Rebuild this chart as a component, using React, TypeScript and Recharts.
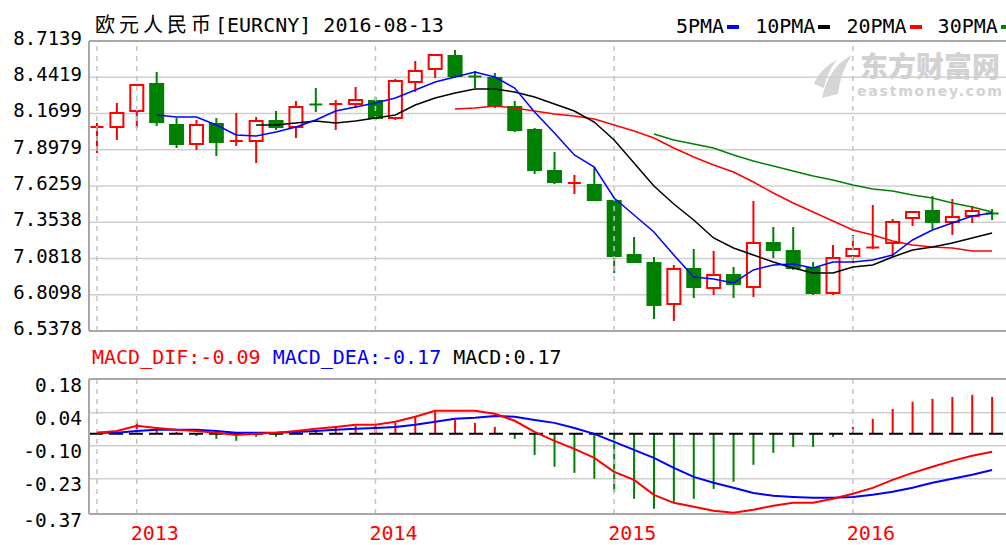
import React from "react";
import {
  ComposedChart,
  Bar,
  Line,
  XAxis,
  YAxis,
  CartesianGrid,
  ReferenceLine,
  Cell,
} from "recharts";

// monthly candles, Nov 2012 .. Aug 2016
const months = [
  "2012-11", "2012-12",
  "2013-01", "2013-02", "2013-03", "2013-04", "2013-05", "2013-06", "2013-07", "2013-08", "2013-09", "2013-10", "2013-11", "2013-12",
  "2014-01", "2014-02", "2014-03", "2014-04", "2014-05", "2014-06", "2014-07", "2014-08", "2014-09", "2014-10", "2014-11", "2014-12",
  "2015-01", "2015-02", "2015-03", "2015-04", "2015-05", "2015-06", "2015-07", "2015-08", "2015-09", "2015-10", "2015-11", "2015-12",
  "2016-01", "2016-02", "2016-03", "2016-04", "2016-05", "2016-06", "2016-07", "2016-08",
];

const open = [8.0611, 8.0686, 8.1887, 8.3913, 8.0836, 7.9411, 8.0911, 7.9561, 7.9636, 8.1136, 8.0686, 8.2412, 8.2337, 8.2412, 8.2637, 8.1362, 8.4063, 8.5038, 8.6014, 8.4513, 8.4363, 8.2187, 8.0461, 7.7385, 7.641, 7.6335, 7.5133, 7.1082, 7.0482, 6.7405, 7.0031, 6.8606, 6.9581, 6.8681, 7.1983, 7.1382, 7.0106, 6.8231, 7.1007, 7.1608, 7.1983, 7.3858, 7.4383, 7.3558, 7.4008, 7.4233];
const high = [8.0986, 8.2487, 8.3913, 8.4813, 8.1362, 8.1211, 8.1362, 8.1737, 8.1437, 8.1887, 8.2637, 8.3613, 8.2712, 8.3688, 8.2937, 8.4288, 8.5639, 8.6164, 8.6464, 8.4888, 8.4738, 8.2637, 8.0611, 7.881, 7.7085, 7.7685, 7.5208, 7.2433, 7.0932, 7.0332, 7.1532, 7.1382, 7.0182, 7.5133, 7.3183, 7.3183, 7.0557, 7.1833, 7.2583, 7.4833, 7.3783, 7.4383, 7.5509, 7.5283, 7.4758, 7.4533];
const low = [7.8735, 7.9711, 8.0611, 8.0761, 7.9111, 7.896, 7.851, 7.9261, 7.7985, 8.0461, 7.9861, 8.1812, 8.0461, 8.2112, 8.1211, 8.1211, 8.3313, 8.4363, 8.4438, 8.3613, 8.2112, 8.0311, 7.716, 7.641, 7.566, 7.5133, 6.9731, 7.0482, 6.628, 6.613, 6.7855, 6.8081, 6.7855, 6.793, 7.0857, 6.9956, 6.8081, 6.8081, 7.0482, 7.1532, 7.0932, 7.3258, 7.3033, 7.2583, 7.3483, 7.3708];
const close = [8.0761, 8.1737, 8.3838, 8.1061, 7.9411, 8.0836, 7.9561, 7.9711, 8.1136, 8.0686, 8.2187, 8.2337, 8.2487, 8.2712, 8.1362, 8.4138, 8.4888, 8.6089, 8.4513, 8.4438, 8.2337, 8.0461, 7.746, 7.656, 7.656, 7.5208, 7.1007, 7.0557, 6.733, 7.0031, 6.8681, 6.9581, 6.8906, 7.1983, 7.1457, 7.0106, 6.8231, 7.0857, 7.1532, 7.1683, 7.3558, 7.4308, 7.3558, 7.3933, 7.4383, 7.4158];

const ma5 = [null, null, null, 8.1587, 8.1437, 8.1437, 8.0836, 8.0086, 8.0011, 8.0311, 8.0686, 8.1211, 8.1887, 8.2187, 8.2487, 8.2862, 8.3463, 8.4063, 8.4438, 8.4813, 8.4438, 8.3613, 8.1812, 8.0236, 7.8585, 7.7685, 7.5358, 7.4083, 7.2807, 7.1081, 6.943, 6.928, 6.898, 6.9956, 7.0331, 7.0406, 7.0106, 7.0556, 7.0556, 7.0706, 7.1081, 7.2207, 7.2957, 7.3483, 7.4008, 7.4233];
const ma10 = [null, null, null, null, null, null, null, null, 8.0836, 8.0836, 8.0986, 8.1136, 8.0986, 8.1136, 8.1362, 8.1587, 8.2337, 8.2862, 8.3237, 8.3538, 8.3538, 8.3312, 8.2937, 8.2412, 8.1887, 8.1061, 7.9711, 7.7985, 7.6259, 7.4908, 7.3708, 7.2357, 7.1607, 7.1081, 7.0556, 7.0106, 6.9731, 6.9731, 7.0181, 7.0331, 7.0931, 7.1456, 7.1682, 7.1982, 7.2357, 7.2732];
const ma20 = [null, null, null, null, null, null, null, null, null, null, null, null, null, null, null, null, null, null, 8.2037, 8.2112, 8.2262, 8.2112, 8.1887, 8.1662, 8.1512, 8.1286, 8.0836, 8.0386, 7.9861, 7.911, 7.8435, 7.7835, 7.7309, 7.6559, 7.5734, 7.4983, 7.4308, 7.3633, 7.2957, 7.2582, 7.2132, 7.1832, 7.1682, 7.1607, 7.1381, 7.1381];
const ma30 = [null, null, null, null, null, null, null, null, null, null, null, null, null, null, null, null, null, null, null, null, null, null, null, null, null, null, null, null, 8.0161, 7.9711, 7.9411, 7.911, 7.8585, 7.8135, 7.776, 7.7385, 7.7009, 7.6709, 7.6334, 7.6034, 7.5884, 7.5584, 7.5358, 7.4983, 7.4683, 7.4308];

const dif = [0.005, 0.014, 0.038, 0.028, 0.019, 0.014, 0.005, -0.005, 0.0, 0.005, 0.014, 0.024, 0.033, 0.043, 0.043, 0.057, 0.081, 0.109, 0.109, 0.109, 0.095, 0.062, 0.009, -0.033, -0.071, -0.114, -0.18, -0.218, -0.289, -0.327, -0.346, -0.365, -0.374, -0.36, -0.341, -0.327, -0.327, -0.308, -0.284, -0.256, -0.218, -0.185, -0.156, -0.128, -0.104, -0.085];
const dea = [0.005, 0.005, 0.014, 0.019, 0.019, 0.019, 0.014, 0.005, 0.005, 0.005, 0.009, 0.014, 0.019, 0.024, 0.028, 0.033, 0.043, 0.057, 0.071, 0.076, 0.085, 0.081, 0.066, 0.052, 0.028, 0.0, -0.038, -0.076, -0.114, -0.161, -0.204, -0.232, -0.256, -0.28, -0.294, -0.299, -0.303, -0.303, -0.299, -0.289, -0.275, -0.256, -0.232, -0.213, -0.194, -0.171];
const macd = [0.0, 0.01, 0.057, 0.019, 0.009, -0.01, -0.024, -0.033, -0.014, -0.014, 0.005, 0.014, 0.033, 0.038, 0.038, 0.052, 0.081, 0.104, 0.066, 0.052, 0.033, -0.024, -0.1, -0.156, -0.185, -0.213, -0.275, -0.308, -0.355, -0.322, -0.308, -0.261, -0.227, -0.147, -0.09, -0.062, -0.062, -0.014, 0.033, 0.071, 0.118, 0.152, 0.166, 0.175, 0.185, 0.175];

const priceTicks = [8.7139, 8.4419, 8.1699, 7.8979, 7.6259, 7.3538, 7.0818, 6.8098, 6.5378];
// the source draws its MACD labels at the grid rows, not at their own values
const macdTicks = [0.26, 0.1, -0.057, -0.213, -0.38];
const macdTickLabels = ["0.18", "0.04", "-0.10", "-0.23", "-0.37"];
const yearTicks = [2, 14, 26, 38];
const yearLabels = ["2013", "2014", "2015", "2016"];
const dashedMonths = [0, 2, 14, 26, 38];

const legendNames = ["5PMA", "10PMA", "20PMA", "30PMA"];
const legendColors = ["#0000ff", "#000000", "#ff0000", "#008000"];

const priceRows = months.map((m, i) => ({
  i,
  month: m,
  open: open[i],
  high: high[i],
  low: low[i],
  close: close[i],
  ma5: ma5[i],
  ma10: ma10[i],
  ma20: ma20[i],
  ma30: ma30[i],
}));

const macdRows = months.map((m, i) => ({ i, month: m, dif: dif[i], dea: dea[i], macd: macd[i] }));

const MONO = '"DejaVu Sans Mono", "Liberation Mono", monospace';
const CJK = '"DejaVu Sans Mono", "Noto Sans CJK SC", monospace';
const X_DOMAIN = [-0.4, 45.7];
const GRID = "#cfcfcf";
const FRAME = "#a8a8a8";

const Candle = (props: any) => {
  const { x, y, width, height, payload } = props;
  if (x == null || !payload) return null;
  const { open: o, close: c, high: h, low: l } = payload;
  const top = Math.min(y, y + height);
  const span = Math.abs(height);
  const k = h > l ? span / (h - l) : 0;
  const py = (v: number) => top + (h - v) * k;
  const cx = x + width / 2;
  const up = c >= o;
  const color = up ? "#ff0000" : "#008000";
  const bTop = py(Math.max(o, c));
  const bBot = py(Math.min(o, c));
  const bw = 13;

  if (bBot - bTop < 2.5) {
    const my = (bTop + bBot) / 2;
    return (
      <g>
        <line x1={cx} x2={cx} y1={top} y2={top + span} stroke={color} strokeWidth={2} />
        <line x1={cx - bw / 2} x2={cx + bw / 2} y1={my} y2={my} stroke={color} strokeWidth={Math.max(2, bBot - bTop)} />
      </g>
    );
  }
  if (up) {
    return (
      <g>
        <line x1={cx} x2={cx} y1={top} y2={bTop} stroke={color} strokeWidth={2} />
        <line x1={cx} x2={cx} y1={bBot} y2={top + span} stroke={color} strokeWidth={2} />
        <rect x={cx - bw / 2} y={bTop} width={bw} height={bBot - bTop} fill="#fff" stroke={color} strokeWidth={2} />
      </g>
    );
  }
  return (
    <g>
      <line x1={cx} x2={cx} y1={top} y2={top + span} stroke={color} strokeWidth={2} />
      <rect x={cx - bw / 2 - 1} y={bTop - 1} width={bw + 2} height={bBot - bTop + 2} fill={color} />
    </g>
  );
};

const PriceTick = (props: any) => {
  const { x, y, payload } = props;
  return (
    <text x={x} y={y - 3} textAnchor="end" dominantBaseline="central" fontSize={19} fontFamily={MONO} fill="#000">
      {Number(payload.value).toFixed(4)}
    </text>
  );
};

const MacdTick = (props: any) => {
  const { x, y, payload } = props;
  const label = macdTickLabels[macdTicks.indexOf(payload.value)];
  return (
    <text x={x} y={y + 6} textAnchor="end" dominantBaseline="central" fontSize={19.5} fontFamily={MONO} fill="#000">
      {label}
    </text>
  );
};

const YearTick = (props: any) => {
  const { x, y, payload } = props;
  const label = yearLabels[yearTicks.indexOf(payload.value)];
  return (
    <text x={x - 6} y={y + 19} textAnchor="start" dominantBaseline="central" fontSize={20} fontFamily={MONO} fill="#ff0000">
      {label}
    </text>
  );
};

export default function App() {
  const last = months.length - 1;
  return (
    <div
      style={{
        position: "absolute",
        left: 0,
        top: 0,
        width: 1006,
        height: 545,
        background: "#fff",
        overflow: "hidden",
        fontFamily: MONO,
      }}
    >
      {/* watermark */}
      <svg style={{ position: "absolute", left: 812, top: 52 }} width={44} height={50}>
        <path d="M10 46 C 14 26, 24 11, 40 3 C 32 15, 28 27, 26 42 Z" fill="#d6d6d6" />
        <path d="M2 32 C 6 21, 15 13, 25 8 C 18 17, 14 25, 12 36 Z" fill="#d6d6d6" />
      </svg>
      <div style={{ position: "absolute", left: 860, top: 48, fontSize: 28, lineHeight: "34px", fontWeight: 900, color: "#d2d2d2", fontFamily: '"Noto Sans CJK SC", sans-serif', whiteSpace: "nowrap" }}>
        东方财富网
      </div>
      <div style={{ position: "absolute", left: 857, top: 83, fontSize: 14, lineHeight: "16px", fontWeight: 700, color: "#d2d2d2", letterSpacing: 1.8, fontFamily: '"DejaVu Sans", sans-serif', whiteSpace: "nowrap" }}>
        eastmoney.com
      </div>

      {/* title */}
      <div style={{ position: "absolute", left: 95, top: 14, fontSize: 20, lineHeight: "22px", fontFamily: CJK, color: "#000", whiteSpace: "nowrap" }}>
        <span style={{ letterSpacing: 4 }}>欧元人民币</span>[EURCNY] 2016-08-13
      </div>

      {/* MA legend */}
      <div style={{ position: "absolute", left: 676, top: 15, fontSize: 20, lineHeight: "22px", color: "#000", whiteSpace: "nowrap", display: "flex" }}>
        {legendNames.map((name, k) => (
          <span key={name} style={{ display: "flex", alignItems: "center", marginRight: 16 }}>
            <span>{name}</span>
            <span style={{ display: "inline-block", width: 12, height: 4, marginLeft: 3, marginTop: 2, background: legendColors[k] }} />
          </span>
        ))}
      </div>

      <div style={{ position: "absolute", left: 0, top: 0 }}>
        <ComposedChart width={1006} height={345} data={priceRows} margin={{ top: 41, right: 0, bottom: 14, left: 0 }}>
          <CartesianGrid vertical={false} stroke={GRID} strokeWidth={1.5} />
          <XAxis type="number" dataKey="i" domain={X_DOMAIN} allowDataOverflow hide />
          <YAxis
            type="number"
            domain={[6.5378, 8.7139]}
            ticks={priceTicks}
            interval={0}
            width={89}
            tickSize={0}
            tickMargin={7}
            tickLine={false}
            tick={<PriceTick />}
            axisLine={{ stroke: FRAME, strokeWidth: 2 }}
            allowDataOverflow
          />
          {dashedMonths.map((m) => (
            <ReferenceLine key={m} x={m} stroke="#c4c4c4" strokeWidth={1.5} strokeDasharray="5 5" />
          ))}
          <ReferenceLine y={8.7139} stroke={FRAME} strokeWidth={2} />
          <ReferenceLine y={6.5378} stroke={FRAME} strokeWidth={2} />
          <Bar dataKey={(r: any) => [r.low, r.high]} barSize={14} shape={<Candle />} isAnimationActive={false} />
          <Line dataKey="ma30" stroke="#008000" strokeWidth={1.5} dot={false} isAnimationActive={false} />
          <Line dataKey="ma20" stroke="#ff0000" strokeWidth={1.5} dot={false} isAnimationActive={false} />
          <Line dataKey="ma10" stroke="#000000" strokeWidth={1.5} dot={false} isAnimationActive={false} />
          <Line dataKey="ma5" stroke="#0000ff" strokeWidth={1.5} dot={false} isAnimationActive={false} />
        </ComposedChart>
      </div>

      {/* MACD header */}
      <div style={{ position: "absolute", left: 92, top: 346, fontSize: 20, lineHeight: "22px", whiteSpace: "pre" }}>
        <span style={{ color: "#ff0000" }}>{`MACD_DIF:${dif[last].toFixed(2)}`}</span>
        <span> </span>
        <span style={{ color: "#0000ff" }}>{`MACD_DEA:${dea[last].toFixed(2)}`}</span>
        <span> </span>
        <span style={{ color: "#000" }}>{`MACD:${macd[last].toFixed(2)}`}</span>
      </div>

      <div style={{ position: "absolute", left: 0, top: 340 }}>
        <ComposedChart width={1006} height={205} data={macdRows} margin={{ top: 39, right: 0, bottom: 0, left: 0 }}>
          <CartesianGrid vertical={false} stroke={GRID} strokeWidth={1.5} />
          <XAxis
            type="number"
            dataKey="i"
            domain={X_DOMAIN}
            ticks={yearTicks}
            interval={0}
            height={31}
            tickSize={0}
            tickMargin={0}
            tickLine={false}
            axisLine={false}
            tick={<YearTick />}
            allowDataOverflow
          />
          <YAxis
            type="number"
            domain={[-0.38, 0.26]}
            ticks={macdTicks}
            interval={0}
            width={89}
            tickSize={0}
            tickMargin={7}
            tickLine={false}
            tick={<MacdTick />}
            axisLine={{ stroke: FRAME, strokeWidth: 2 }}
            allowDataOverflow
          />
          {dashedMonths.map((m) => (
            <ReferenceLine key={m} x={m} stroke="#c4c4c4" strokeWidth={1.5} strokeDasharray="5 5" />
          ))}
          <ReferenceLine y={0.26} stroke={FRAME} strokeWidth={2} />
          <ReferenceLine y={-0.38} stroke={FRAME} strokeWidth={2} />
          <Bar dataKey="macd" barSize={2} isAnimationActive={false}>
            {macdRows.map((r) => (
              <Cell key={r.i} fill={r.macd >= 0 ? "#ff0000" : "#008000"} />
            ))}
          </Bar>
          <ReferenceLine y={0} stroke="#000" strokeWidth={2} strokeDasharray="14 6" />
          <Line dataKey="dea" stroke="#0000ff" strokeWidth={2} dot={false} isAnimationActive={false} />
          <Line dataKey="dif" stroke="#ff0000" strokeWidth={2} dot={false} isAnimationActive={false} />
        </ComposedChart>
      </div>
    </div>
  );
}
